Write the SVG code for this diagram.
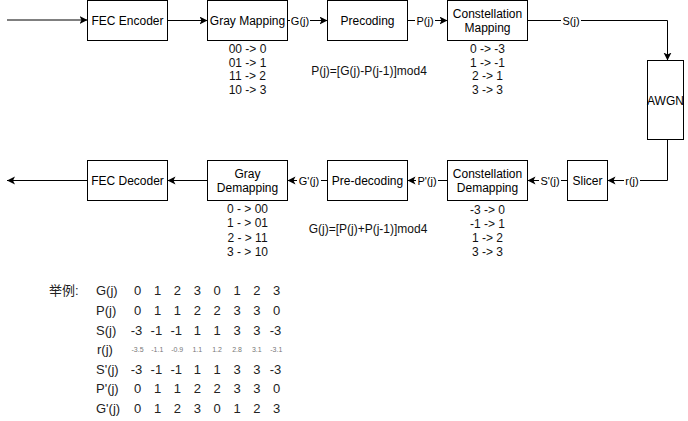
<svg xmlns="http://www.w3.org/2000/svg" width="688" height="421" viewBox="0 0 688 421">
<style>
.box{fill:#fff;stroke:#000;stroke-width:1}
.t{font-family:"Liberation Sans",Arial,sans-serif;font-size:12px;fill:#000;text-anchor:middle}
.el{font-family:"Liberation Sans",Arial,sans-serif;font-size:11px;fill:#000;text-anchor:middle}
.lst{font-family:"Liberation Sans",Arial,sans-serif;font-size:12px;fill:#111;text-anchor:middle}
.tb{font-family:"Liberation Sans","Noto Sans CJK SC",Arial,sans-serif;font-size:13px;fill:#222}
.tv{font-family:"Liberation Sans",Arial,sans-serif;font-size:13px;fill:#222;text-anchor:middle}
.tr{font-family:"Liberation Sans",Arial,sans-serif;font-size:7px;fill:#777;text-anchor:middle}
.ln{fill:none;stroke:#000;stroke-width:1;marker-end:url(#arr)}
.lb{fill:#fff}
</style>
<defs>
<marker id="arr" markerUnits="userSpaceOnUse" markerWidth="10" markerHeight="10" refX="8" refY="4" orient="auto">
<path d="M0,0 L8,4 L0,8 L2,4 z" fill="#000"/>
</marker>
</defs>
<rect width="688" height="421" fill="#fff"/>

<g id="connectors">
<path class="ln" d="M7,20 H87.5"/>
<path class="ln" d="M167.5,20.5 H207.5"/>
<path class="ln" d="M287.5,20.5 H327.5"/>
<path class="ln" d="M407.5,20.5 H447.5"/>
<path class="ln" d="M527.5,20.5 H667.5 V60.5"/>
<path class="ln" d="M667.5,139.5 V180.5 H607.5"/>
<path class="ln" d="M567.5,180.5 H527.5"/>
<path class="ln" d="M447.5,180.5 H407.5"/>
<path class="ln" d="M327.5,180.5 H287.5"/>
<path class="ln" d="M207.5,180.5 H167.5"/>
<path class="ln" d="M87.5,180.5 H7"/>
<rect class="lb" x="290" y="13" width="20" height="14"/>
<text class="el" x="300" y="24.5">G(j)</text>
<rect class="lb" x="415" y="13" width="20" height="14"/>
<text class="el" x="425" y="24.5">P(j)</text>
<rect class="lb" x="561" y="13" width="20" height="14"/>
<text class="el" x="571" y="24.5">S(j)</text>
<rect class="lb" x="624" y="173" width="16" height="14"/>
<text class="el" x="632" y="184.5">r(j)</text>
<rect class="lb" x="539" y="173" width="22" height="14"/>
<text class="el" x="550" y="184.5">S'(j)</text>
<rect class="lb" x="416" y="173" width="22" height="14"/>
<text class="el" x="427" y="184.5">P'(j)</text>
<rect class="lb" x="297" y="173" width="24" height="14"/>
<text class="el" x="309" y="184.5">G'(j)</text>
</g>

<g id="fec-encoder"><rect class="box" x="87.5" y="0.5" width="80" height="40"/><text class="t" x="127.5" y="24.5">FEC Encoder</text></g>
<g id="gray-mapping"><rect class="box" x="207.5" y="0.5" width="80" height="40"/><text class="t" x="247.5" y="24.5">Gray Mapping</text>
<text class="lst" x="247.5" y="53">00 -&gt; 0</text><text class="lst" x="247.5" y="66.5">01 -&gt; 1</text><text class="lst" x="247.5" y="80">11 -&gt; 2</text><text class="lst" x="247.5" y="93.5">10 -&gt; 3</text></g>
<g id="precoding"><rect class="box" x="327.5" y="0.5" width="80" height="40"/><text class="t" x="367.5" y="24.5">Precoding</text>
<text class="lst" x="369" y="75">P(j)=[G(j)-P(j-1)]mod4</text></g>
<g id="constellation-mapping"><rect class="box" x="447.5" y="0.5" width="80" height="40"/><text class="t" x="487.5" y="17.5">Constellation</text><text class="t" x="487.5" y="32">Mapping</text>
<text class="lst" x="487.5" y="53">0 -&gt; -3</text><text class="lst" x="487.5" y="66.5">1 -&gt; -1</text><text class="lst" x="487.5" y="80">2 -&gt; 1</text><text class="lst" x="487.5" y="93.5">3 -&gt; 3</text></g>
<g id="awgn"><rect class="box" x="647.5" y="60.5" width="36" height="79"/><text class="t" x="665.5" y="104.5">AWGN</text></g>
<g id="slicer"><rect class="box" x="567.5" y="160.5" width="40" height="40"/><text class="t" x="587.5" y="184.5">Slicer</text></g>
<g id="constellation-demapping"><rect class="box" x="447.5" y="160.5" width="80" height="40"/><text class="t" x="487.5" y="177.5">Constellation</text><text class="t" x="487.5" y="192">Demapping</text>
<text class="lst" x="487.5" y="214">-3 -&gt; 0</text><text class="lst" x="487.5" y="227.5">-1 -&gt; 1</text><text class="lst" x="487.5" y="242">1 -&gt; 2</text><text class="lst" x="487.5" y="256">3 -&gt; 3</text></g>
<g id="pre-decoding"><rect class="box" x="327.5" y="160.5" width="80" height="40"/><text class="t" x="367.5" y="184.5">Pre-decoding</text>
<text class="lst" x="368" y="233">G(j)=[P(j)+P(j-1)]mod4</text></g>
<g id="gray-demapping"><rect class="box" x="207.5" y="160.5" width="80" height="40"/><text class="t" x="247.5" y="177.5">Gray</text><text class="t" x="247.5" y="192">Demapping</text>
<text class="lst" x="247.5" y="213">0 - &gt; 00</text><text class="lst" x="247.5" y="227">1 - &gt; 01</text><text class="lst" x="247.5" y="241.5">2 - &gt; 11</text><text class="lst" x="247.5" y="256">3 - &gt; 10</text></g>
<g id="fec-decoder"><rect class="box" x="87.5" y="160.5" width="80" height="40"/><text class="t" x="127.5" y="184.5">FEC Decoder</text></g>

<g id="example-table">
<text class="tb" x="49" y="295">举例:</text>
<text class="tb" x="96" y="295">G(j)</text>
<text class="tb" x="96" y="315">P(j)</text>
<text class="tb" x="96" y="334.5">S(j)</text>
<text class="tb" x="97" y="354">r(j)</text>
<text class="tb" x="96" y="373.5">S'(j)</text>
<text class="tb" x="96" y="393">P'(j)</text>
<text class="tb" x="96" y="413">G'(j)</text>
<g>
<text class="tv" x="137.7" y="295">0</text><text class="tv" x="157.6" y="295">1</text><text class="tv" x="177.4" y="295">2</text><text class="tv" x="197.3" y="295">3</text><text class="tv" x="217.1" y="295">0</text><text class="tv" x="237" y="295">1</text><text class="tv" x="256.8" y="295">2</text><text class="tv" x="276.7" y="295">3</text>
<text class="tv" x="137.7" y="315">0</text><text class="tv" x="157.6" y="315">1</text><text class="tv" x="177.4" y="315">1</text><text class="tv" x="197.3" y="315">2</text><text class="tv" x="217.1" y="315">2</text><text class="tv" x="237" y="315">3</text><text class="tv" x="256.8" y="315">3</text><text class="tv" x="276.7" y="315">0</text>
<text class="tv" x="136.5" y="334.5">-3</text><text class="tv" x="156.4" y="334.5">-1</text><text class="tv" x="176.2" y="334.5">-1</text><text class="tv" x="197.3" y="334.5">1</text><text class="tv" x="217.1" y="334.5">1</text><text class="tv" x="237" y="334.5">3</text><text class="tv" x="256.8" y="334.5">3</text><text class="tv" x="275.5" y="334.5">-3</text>
<text class="tv" x="136.5" y="373.5">-3</text><text class="tv" x="156.4" y="373.5">-1</text><text class="tv" x="176.2" y="373.5">-1</text><text class="tv" x="197.3" y="373.5">1</text><text class="tv" x="217.1" y="373.5">1</text><text class="tv" x="237" y="373.5">3</text><text class="tv" x="256.8" y="373.5">3</text><text class="tv" x="275.5" y="373.5">-3</text>
<text class="tv" x="137.7" y="393">0</text><text class="tv" x="157.6" y="393">1</text><text class="tv" x="177.4" y="393">1</text><text class="tv" x="197.3" y="393">2</text><text class="tv" x="217.1" y="393">2</text><text class="tv" x="237" y="393">3</text><text class="tv" x="256.8" y="393">3</text><text class="tv" x="276.7" y="393">0</text>
<text class="tv" x="137.7" y="413">0</text><text class="tv" x="157.6" y="413">1</text><text class="tv" x="177.4" y="413">2</text><text class="tv" x="197.3" y="413">3</text><text class="tv" x="217.1" y="413">0</text><text class="tv" x="237" y="413">1</text><text class="tv" x="256.8" y="413">2</text><text class="tv" x="276.7" y="413">3</text>
</g>
<text class="tr" x="137.5" y="352">-3.5</text><text class="tr" x="157.3" y="352">-1.1</text><text class="tr" x="177.2" y="352">-0.9</text><text class="tr" x="197.3" y="352">1.1</text><text class="tr" x="217.1" y="352">1.2</text><text class="tr" x="237" y="352">2.8</text><text class="tr" x="256.8" y="352">3.1</text><text class="tr" x="276.3" y="352">-3.1</text>
</g>
</svg>
